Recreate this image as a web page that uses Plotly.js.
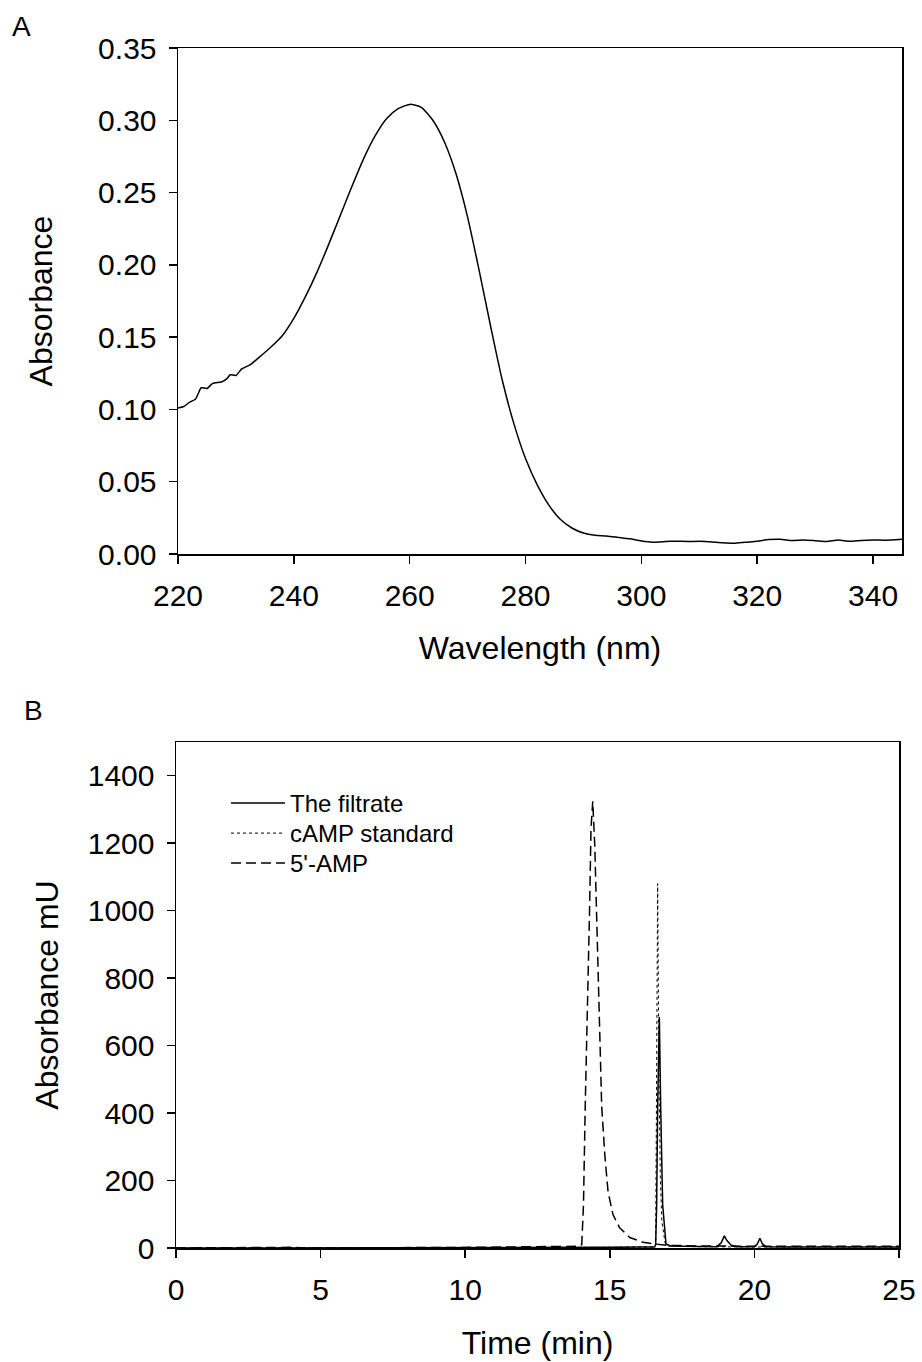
<!DOCTYPE html>
<html>
<head>
<meta charset="utf-8">
<script src="https://cdn.plot.ly/plotly-3.0.1.min.js"></script>
<style>html,body{margin:0;padding:0;background:#fff;}#chart{width:922px;height:1362px;}</style>
</head>
<body>
<div id="chart"></div>
<script>
// Panel A: UV spectrum
const wavelength = [220,221,222,223,223.5,224,225,226,227.5,228.5,229,230,231,232.5,234,236,238,240,242,244,246,248,250,252,254,256,258,260,262,264,266,268,270,272,274,276,278,280,282,284,286,288,290,292,294,296,298,300,302,305,308,311,314,316,318,320,322,324,326,328,330,332,334,336,338,340,342,345];
const absorbance = [0.101,0.102,0.105,0.107,0.111,0.115,0.1145,0.118,0.119,0.1215,0.124,0.1235,0.128,0.131,0.136,0.143,0.151,0.163,0.178,0.195,0.214,0.234,0.254,0.273,0.289,0.301,0.308,0.311,0.309,0.300,0.285,0.263,0.233,0.196,0.157,0.120,0.090,0.066,0.048,0.034,0.024,0.018,0.0145,0.013,0.0125,0.0115,0.0105,0.009,0.0082,0.0088,0.0087,0.0087,0.0078,0.0075,0.0082,0.0088,0.0100,0.0102,0.0093,0.0096,0.0092,0.0087,0.0096,0.0088,0.0094,0.0097,0.0095,0.0102];

// Panel B: HPLC chromatograms
const filtrateTime = [0,5,10,15,16.0,16.55,16.586,16.62,16.655,16.713,16.759,16.828,16.943,17.1,17.5,18,18.7,18.85,18.96,19.05,19.2,19.4,20.0,20.1,20.19,20.28,20.4,21,22,23,24,25];
const filtrateAbs = [0,0,0,2,3,3,10,128,419,685,419,128,12,6,5,4,4,15,36,22,8,4,4,12,29,12,4,3,3,3,3,3];

const campTime = [0,5,10,15,16.0,16.55,16.586,16.61,16.655,16.70,16.75,16.80,16.91,17.0,18,20,22,25];
const campAbs = [0,0,0,2,3,3,8,300,1080,500,200,80,15,6,4,3,3,3];

const ampTime = [0,2.5,3,4,4.5,6,8,10,10.5,11.5,12.5,13.5,13.9,14.03,14.09,14.15,14.23,14.30,14.35,14.41,14.48,14.55,14.60,14.66,14.72,14.83,14.94,15.11,15.34,15.69,16.15,16.55,17,18,19,20,21,22,23,24,25];
const ampAbs = [0,2,3,2,0,0,0,0,2,3,3,4,5,10,128,419,709,1000,1243,1324,1194,1000,807,614,419,273,167,99,60,31,17,12,8,6,5,5,5,5,5,5,5];

const seriesNames = ['The filtrate','cAMP standard',"5'-AMP"];

const FONT = 'Liberation Sans, Arial, sans-serif';
const W = 922, H = 1362;
const px = v => v / W;
const py = v => 1 - v / H;

const axisCommon = {
  showline: true, mirror: true, linecolor: '#000', linewidth: 1.5,
  ticks: 'outside', ticklen: 8, tickwidth: 1.5, tickcolor: '#000',
  ticklabelstandoff: 6,
  showgrid: false, zeroline: false,
  tickfont: {family: FONT, size: 30, color: '#000'}
};
const titleFont = {family: FONT, size: 32, color: '#000'};

const traces = [
  {x: wavelength, y: absorbance, type: 'scatter', mode: 'lines', xaxis: 'x', yaxis: 'y',
   line: {color: '#000', width: 1.5, shape: 'spline', smoothing: 0.6}, showlegend: false},
  {x: filtrateTime, y: filtrateAbs, type: 'scatter', mode: 'lines', xaxis: 'x2', yaxis: 'y2',
   name: seriesNames[0], legend: 'legend', line: {color: '#000', width: 1.5, dash: 'solid'}},
  {x: campTime, y: campAbs, type: 'scatter', mode: 'lines', xaxis: 'x2', yaxis: 'y2',
   name: seriesNames[1], legend: 'legend2', line: {color: '#000', width: 1, dash: 'dot'}},
  {x: ampTime, y: ampAbs, type: 'scatter', mode: 'lines', xaxis: 'x2', yaxis: 'y2',
   name: seriesNames[2], legend: 'legend3', line: {color: '#000', width: 1.5, dash: '10px,5px'}}
];

function legendAt(topPx) {
  return {
    x: px(226), y: py(topPx), xanchor: 'left', yanchor: 'top',
    bgcolor: 'rgba(0,0,0,0)', borderwidth: 0,
    font: {family: FONT, size: 24, color: '#000'},
    itemwidth: 54, tracegroupgap: 0
  };
}

const layout = {
  width: W, height: H,
  margin: {l: 0, r: 0, t: 0, b: 0},
  paper_bgcolor: '#fff', plot_bgcolor: '#fff',
  font: {family: FONT, color: '#000'},
  xaxis: Object.assign({}, axisCommon, {
    domain: [px(178), px(902)], anchor: 'y', range: [220, 345],
    tick0: 220, dtick: 20,
    title: {text: 'Wavelength (nm)', font: titleFont, standoff: 26}
  }),
  yaxis: Object.assign({}, axisCommon, {
    domain: [py(554), py(48)], anchor: 'x', range: [0, 0.35],
    tick0: 0, dtick: 0.05, tickformat: '.2f',
    title: {text: 'Absorbance', font: titleFont, standoff: 36}
  }),
  xaxis2: Object.assign({}, axisCommon, {
    domain: [px(176), px(899)], anchor: 'y2', range: [0, 25],
    tick0: 0, dtick: 5,
    title: {text: 'Time (min)', font: titleFont, standoff: 27}
  }),
  yaxis2: Object.assign({}, axisCommon, {
    domain: [py(1248), py(742)], anchor: 'x2', range: [0, 1500],
    tick0: 0, dtick: 200,
    title: {text: 'Absorbance mU', font: titleFont, standoff: 19}
  }),
  showlegend: true,
  legend: legendAt(781),
  legend2: legendAt(811),
  legend3: legendAt(841),
  annotations: [
    {text: 'A', x: px(10), y: py(26), xref: 'paper', yref: 'paper', xanchor: 'left', yanchor: 'middle',
     showarrow: false, font: {family: FONT, size: 28, color: '#000'}},
    {text: 'B', x: px(22), y: py(711), xref: 'paper', yref: 'paper', xanchor: 'left', yanchor: 'middle',
     showarrow: false, font: {family: FONT, size: 28, color: '#000'}}
  ]
};

Plotly.newPlot('chart', traces, layout, {displayModeBar: false, staticPlot: true});
</script>
</body>
</html>
